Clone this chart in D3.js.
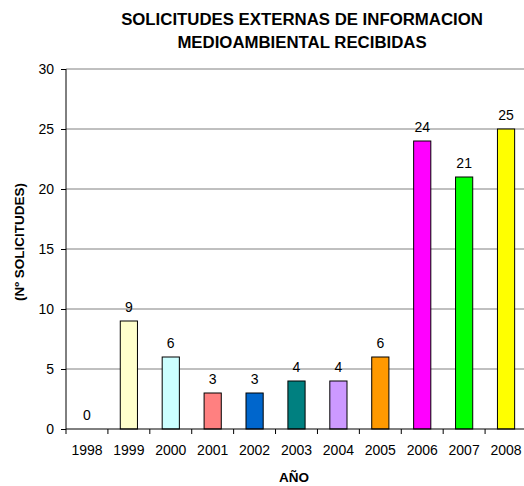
<!DOCTYPE html>
<html>
<head>
<meta charset="utf-8">
<script src="https://cdn.jsdelivr.net/npm/d3@7"></script>
<style>
  body { margin: 0; background: #fff; }
  svg { display: block; font-family: Arial, "Liberation Sans", sans-serif; }
</style>
</head>
<body>
<svg id="chart" width="524" height="486"></svg>
<script>
var years = ["1998", "1999", "2000", "2001", "2002", "2003", "2004", "2005", "2006", "2007", "2008"];
var counts = [0, 9, 6, 3, 3, 4, 4, 6, 24, 21, 25];
var barColors = ["#FFFFFF", "#FFFFCC", "#CCFFFF", "#FF8080", "#0066CC", "#008080", "#CC99FF", "#FF9900", "#FF00FF", "#00FF00", "#FFFF00"];
var yTicks = [0, 5, 10, 15, 20, 25, 30];

var svg = d3.select('#chart');
var margin = {top: 69, left: 66};
var plotW = 461, plotH = 360;

var x = d3.scaleBand().domain(years).range([0, plotW]).paddingInner(0.59).paddingOuter(0.295);
var y = d3.scaleLinear().domain([0, 30]).range([plotH, 0]);

var g = svg.append("g")
    .attr("transform", "translate(" + margin.left + "," + margin.top + ")");

// gridlines
g.selectAll(".grid")
    .data(yTicks.filter(function(d) { return d > 0; }))
    .enter().append("line")
    .attr("x1", 0).attr("x2", plotW)
    .attr("y1", function(d) { return y(d); })
    .attr("y2", function(d) { return y(d); })
    .style("stroke", "#808080")
    .style("stroke-width", 1);

// bars
g.selectAll(".bar")
    .data(counts)
    .enter().append("rect")
    .attr("x", function(d, i) { return x(years[i]); })
    .attr("y", function(d) { return y(d); })
    .attr("width", x.bandwidth())
    .attr("height", function(d) { return plotH - y(d); })
    .style("fill", function(d, i) { return barColors[i]; })
    .style("stroke", function(d) { return d > 0 ? "#000" : "none"; })
    .style("stroke-width", 1);

// value labels
g.selectAll(".val")
    .data(counts)
    .enter().append("text")
    .attr("x", function(d, i) { return x(years[i]) + x.bandwidth() / 2; })
    .attr("y", function(d) { return y(d) - 9; })
    .attr("text-anchor", "middle")
    .style("font-size", "14px")
    .text(function(d) { return d; });

// y axis
var yAxis = g.append("g")
    .call(d3.axisLeft(y).tickValues(yTicks).tickSize(5).tickPadding(7));
yAxis.select(".domain").attr("d", "M0," + plotH + "V0").style("stroke", "#000");
yAxis.selectAll("text").style("font-size", "14px").style("fill", "#000").attr("font-family", null);

// x axis: ticks at category boundaries
var step = x.step();
var xAxis = g.append("g").attr("transform", "translate(0," + plotH + ")");
xAxis.append("line").attr("x1", 0).attr("x2", plotW).style("stroke", "#000");
xAxis.selectAll(".tk")
    .data(d3.range(years.length + 1))
    .enter().append("line")
    .attr("x1", function(i) { return i * step; })
    .attr("x2", function(i) { return i * step; })
    .attr("y1", 0).attr("y2", 5)
    .style("stroke", "#000");
xAxis.selectAll(".lbl")
    .data(years)
    .enter().append("text")
    .attr("x", function(d) { return x(d) + x.bandwidth() / 2; })
    .attr("y", 26)
    .attr("text-anchor", "middle")
    .style("font-size", "14px")
    .text(function(d) { return d; });

// title
var title = svg.append("text")
    .attr("text-anchor", "middle")
    .style("font-size", "16.8px")
    .style("font-weight", "bold");
title.append("tspan").attr("x", 302).attr("y", 25).text("SOLICITUDES EXTERNAS DE INFORMACION");
title.append("tspan").attr("x", 302).attr("y", 48).text("MEDIOAMBIENTAL RECIBIDAS");

// axis titles (y title is cut off at the top as in the original)
svg.append("clipPath").attr("id", "yclip")
    .append("rect").attr("x", 0).attr("y", 182).attr("width", 40).attr("height", 200);

svg.append("g")
    .attr("clip-path", "url(#yclip)")
  .append("text")
    .attr("transform", "translate(24,242) rotate(-90)")
    .attr("text-anchor", "middle")
    .style("font-size", "13.5px")
    .style("font-weight", "bold")
    .text("(Nº SOLICITUDES)");

svg.append("text")
    .attr("x", 294).attr("y", 482)
    .attr("text-anchor", "middle")
    .style("font-size", "13.5px")
    .style("font-weight", "bold")
    .text("AÑO");
</script>
</body>
</html>
